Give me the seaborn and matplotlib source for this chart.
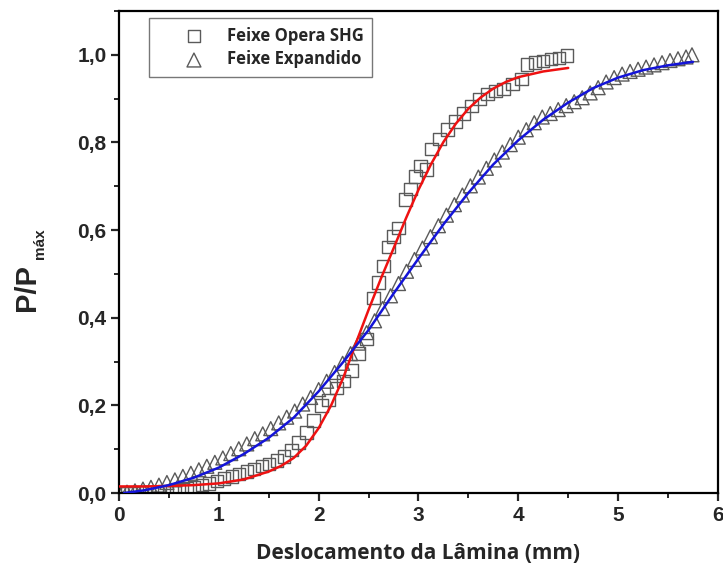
import numpy as np
import pandas as pd
import matplotlib
matplotlib.use("Agg")
import matplotlib.pyplot as plt
from matplotlib.ticker import MultipleLocator, FuncFormatter
import seaborn as sns

# Medidas da faca (knife-edge): potência normalizada vs deslocamento da lâmina
shg_x = [0.00, 0.08, 0.15, 0.23, 0.30, 0.38, 0.45, 0.53, 0.60, 0.68, 0.75, 0.83,
         0.90, 0.98, 1.05, 1.13, 1.20, 1.28, 1.35, 1.43, 1.50, 1.58, 1.65, 1.73,
         1.80, 1.88, 1.95, 2.03, 2.10, 2.18, 2.25, 2.33, 2.40, 2.48, 2.55, 2.60,
         2.65, 2.70, 2.75, 2.80, 2.87, 2.92, 2.97, 3.02, 3.08, 3.13, 3.21, 3.29,
         3.37, 3.45, 3.53, 3.61, 3.69, 3.77, 3.85, 3.94, 4.03, 4.09, 4.17, 4.25,
         4.33, 4.41, 4.49]
shg_y = [0.000, 0.000, 0.000, 0.001, 0.001, 0.002, 0.003, 0.004, 0.007, 0.010, 0.013, 0.018,
         0.022, 0.027, 0.033, 0.038, 0.043, 0.049, 0.055, 0.061, 0.066, 0.074, 0.083, 0.098,
         0.115, 0.138, 0.165, 0.200, 0.212, 0.240, 0.255, 0.280, 0.318, 0.352, 0.445, 0.480,
         0.518, 0.562, 0.585, 0.605, 0.670, 0.694, 0.722, 0.746, 0.738, 0.785, 0.808, 0.830,
         0.848, 0.866, 0.883, 0.899, 0.910, 0.917, 0.922, 0.933, 0.945, 0.978, 0.982, 0.986,
         0.990, 0.993, 0.998]

exp_x = [0.00, 0.08, 0.16, 0.24, 0.32, 0.40, 0.48, 0.56, 0.64, 0.72, 0.80, 0.88,
         0.96, 1.04, 1.12, 1.20, 1.28, 1.36, 1.44, 1.52, 1.60, 1.68, 1.76, 1.84,
         1.92, 2.00, 2.08, 2.16, 2.24, 2.32, 2.40, 2.48, 2.56, 2.64, 2.72, 2.80,
         2.88, 2.96, 3.04, 3.12, 3.20, 3.28, 3.36, 3.44, 3.52, 3.60, 3.68, 3.76,
         3.84, 3.92, 4.00, 4.08, 4.16, 4.24, 4.32, 4.40, 4.48, 4.56, 4.64, 4.72,
         4.80, 4.88, 4.96, 5.04, 5.12, 5.20, 5.28, 5.36, 5.44, 5.52, 5.60, 5.68,
         5.74]
exp_y = [0.000, 0.002, 0.005, 0.009, 0.013, 0.018, 0.024, 0.030, 0.038, 0.045, 0.053, 0.061,
         0.070, 0.080, 0.090, 0.101, 0.112, 0.124, 0.135, 0.147, 0.160, 0.173, 0.187, 0.203,
         0.218, 0.236, 0.255, 0.275, 0.296, 0.318, 0.342, 0.366, 0.393, 0.421, 0.450, 0.478,
         0.506, 0.533, 0.559, 0.585, 0.610, 0.634, 0.658, 0.680, 0.701, 0.721, 0.741, 0.760,
         0.778, 0.795, 0.812, 0.829, 0.845, 0.858, 0.866, 0.875, 0.884, 0.893, 0.902, 0.913,
         0.925, 0.938, 0.948, 0.956, 0.962, 0.967, 0.972, 0.977, 0.982, 0.987, 0.991, 0.995,
         1.000]

# Curvas ajustadas
fit_shg_x = [0.00, 0.25, 0.50, 0.75, 1.00, 1.25, 1.50, 1.625, 1.75, 1.875, 2.00, 2.125,
             2.25, 2.375, 2.50, 2.625, 2.75, 2.875, 3.00, 3.125, 3.25, 3.375, 3.50, 3.625,
             3.75, 3.875, 4.00, 4.25, 4.50]
fit_shg_y = [0.015, 0.015, 0.016, 0.018, 0.022, 0.031, 0.049, 0.062, 0.080, 0.108, 0.148, 0.200,
             0.265, 0.343, 0.418, 0.490, 0.558, 0.627, 0.692, 0.750, 0.801, 0.843, 0.877, 0.903,
             0.923, 0.938, 0.949, 0.962, 0.970]

fit_exp_x = [0.05, 0.25, 0.50, 0.75, 1.00, 1.25, 1.50, 1.75, 2.00, 2.25, 2.50, 2.75,
             3.00, 3.25, 3.50, 3.75, 4.00, 4.25, 4.50, 4.75, 5.00, 5.25, 5.50, 5.75]
fit_exp_y = [0.000, 0.006, 0.018, 0.035, 0.058, 0.089, 0.126, 0.172, 0.232, 0.300, 0.372, 0.455,
             0.535, 0.613, 0.685, 0.750, 0.805, 0.852, 0.891, 0.924, 0.948, 0.965, 0.976, 0.984]

labels = ["Feixe Opera SHG", "Feixe Expandido"]

sns.set_style("ticks")
plt.rcParams["font.family"] = ["Liberation Sans", "DejaVu Sans"]
plt.rcParams["font.weight"] = "bold"

W, H = 723, 575
fig = plt.figure(figsize=(W / 100, H / 100), dpi=100)
ax = fig.add_axes([0.1646, 0.1426, 0.8284, 0.8383])

edge = "#5a5a5a"
sns.scatterplot(x=shg_x, y=shg_y, ax=ax, marker="s", s=80, facecolor="none",
                edgecolor=edge, linewidth=1.0, label=labels[0], zorder=2)
sns.scatterplot(x=exp_x, y=exp_y, ax=ax, marker="^", s=100, facecolor="none",
                edgecolor=edge, linewidth=1.0, label=labels[1], zorder=2)
sns.lineplot(x=fit_shg_x, y=fit_shg_y, ax=ax, color="#ee1111", linewidth=1.8,
             legend=False, zorder=3)
sns.lineplot(x=fit_exp_x, y=fit_exp_y, ax=ax, color="#1414d8", linewidth=1.8,
             legend=False, zorder=3)

ax.set_xlim(0, 6)
ax.set_ylim(0, 1.1)
ax.xaxis.set_major_locator(MultipleLocator(1))
ax.xaxis.set_minor_locator(MultipleLocator(0.5))
ax.yaxis.set_major_locator(MultipleLocator(0.2))
ax.yaxis.set_minor_locator(MultipleLocator(0.1))
ax.xaxis.set_major_formatter(FuncFormatter(lambda v, p: f"{v:.0f}"))
ax.yaxis.set_major_formatter(FuncFormatter(lambda v, p: f"{v:.1f}".replace(".", ",")))

for side in ["left", "bottom", "top", "right"]:
    ax.spines[side].set_visible(True)
    ax.spines[side].set_linewidth(1.6)
    ax.spines[side].set_color("black")
ax.tick_params(which="major", direction="out", length=6, width=1.6, labelsize=15,
               top=False, right=False, pad=3)
ax.tick_params(which="minor", direction="out", length=3.5, width=1.4,
               top=False, right=False)

ax.set_xlabel("Deslocamento da Lâmina (mm)", fontfamily="Open Sans",
              fontweight="bold", fontsize=15, labelpad=13)
ax.set_ylabel("")

# Rótulo do eixo y: P/P com subscrito "máx"
fig.text(27 / W, 1 - 288 / H, "P/P", rotation=90, ha="center", va="center",
         fontsize=21, fontweight="bold")
fig.text(40 / W, 1 - 244 / H, "máx", rotation=90, ha="center", va="center",
         fontsize=11, fontweight="bold")

leg = ax.legend(loc="upper left", bbox_to_anchor=(0.05, 0.985), frameon=True,
                fancybox=False, edgecolor="#777777", framealpha=1,
                prop={"family": "Open Sans", "weight": "bold", "size": 12},
                handlelength=4.4, handletextpad=-0.2, borderpad=0.5,
                labelspacing=0.35, borderaxespad=0)
leg.get_frame().set_linewidth(1.0)

fig.savefig("out.png", dpi=100)
